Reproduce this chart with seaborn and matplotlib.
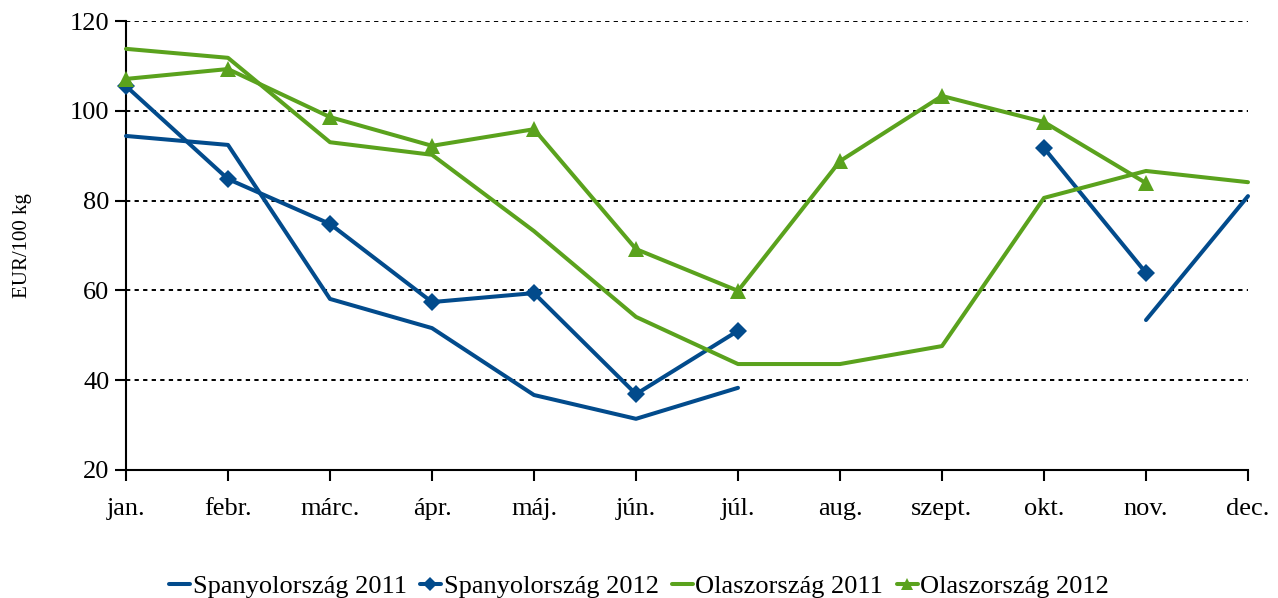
import numpy as np
import pandas as pd
import matplotlib
matplotlib.use("Agg")
import matplotlib.pyplot as plt
import seaborn as sns
from matplotlib.lines import Line2D

months = ["jan.", "febr.", "márc.", "ápr.", "máj.", "jún.", "júl.", "aug.", "szept.", "okt.", "nov.", "dec."]
nan = np.nan
spain_2011 = [94.4, 92.4, 58.1, 51.6, 36.7, 31.4, 38.3, nan, nan, nan, 53.4, 81.0]
spain_2012 = [105.5, 84.8, 74.8, 57.4, 59.4, 36.9, 51.0, nan, nan, 91.7, 63.9, nan]
italy_2011 = [113.8, 111.8, 93.0, 90.2, 73.2, 54.1, 43.6, 43.6, 47.6, 80.6, 86.6, 84.1]
italy_2012 = [107.1, 109.3, 98.6, 92.2, 95.9, 69.2, 59.9, 88.8, 103.3, 97.5, 83.9, nan]
series_names = ["Spanyolország 2011", "Spanyolország 2012", "Olaszország 2011", "Olaszország 2012"]

blue = "#024B8C"
green = "#5AA21D"
styles = {
    "Spanyolország 2011": dict(color=blue, marker=None, ms=0),
    "Spanyolország 2012": dict(color=blue, marker="D", ms=9),
    "Olaszország 2011": dict(color=green, marker=None, ms=0),
    "Olaszország 2012": dict(color=green, marker="^", ms=12),
}

sns.set_theme(style="white")
plt.rcParams["font.family"] = ["Liberation Serif", "DejaVu Serif"]
plt.rcParams["text.color"] = "black"

fig = plt.figure(figsize=(12.78, 5.98), dpi=100)
ax = fig.add_axes([126/1278, 1-470/598, (1248-126)/1278, (470-21)/598])

rows = []
for name, vals in zip(series_names, [spain_2011, spain_2012, italy_2011, italy_2012]):
    seg = 0
    prev_nan = True
    for i, v in enumerate(vals):
        if np.isnan(v):
            prev_nan = True
            continue
        if prev_nan:
            seg += 1
        prev_nan = False
        rows.append(dict(series=name, x=i, y=v, seg=seg))
df = pd.DataFrame(rows)

for name in series_names:
    st = styles[name]
    sub = df[df.series == name]
    for s, g in sub.groupby("seg"):
        sns.lineplot(data=g, x="x", y="y", ax=ax, color=st["color"], linewidth=2.9,
                     marker=st["marker"], markersize=st["ms"], markeredgewidth=0,
                     estimator=None, sort=False, clip_on=False, zorder=3)

ax.set_xlim(0, 11)
ax.set_ylim(20, 120)
ax.set_xticks(range(12))
ax.set_xticklabels(months)
ax.set_yticks([20, 40, 60, 80, 100, 120])
for yv in [20, 40, 60, 80, 100, 120]:
    ax.axhline(yv, color="black", linestyle=(0, (2.2, 2.2)), linewidth=1.4, zorder=1)

ax.set_xlabel("")
ax.set_ylabel("EUR/100 kg", fontsize=15, labelpad=27, color="black")
ax.tick_params(axis="both", labelsize=19, colors="black", direction="out", length=8, width=1.5,
               bottom=True, left=True)
ax.tick_params(axis="x", pad=12)
ax.tick_params(axis="y", pad=4)
for sp in ["top", "right"]:
    ax.spines[sp].set_visible(False)
for sp in ["left", "bottom"]:
    ax.spines[sp].set_color("black")
    ax.spines[sp].set_linewidth(1.5)

handles = []
for name in series_names:
    st = styles[name]
    handles.append(Line2D([], [], color=st["color"], linewidth=2.9, marker=st["marker"],
                          markersize=st["ms"] * 0.75, markeredgewidth=0))
fig.legend(handles, series_names, loc="center", bbox_to_anchor=(0.5, 1-586/598), ncol=4,
           frameon=False, fontsize=19, handlelength=0.8, handletextpad=0.1, columnspacing=0.5)

fig.savefig("out.png", dpi=100)
